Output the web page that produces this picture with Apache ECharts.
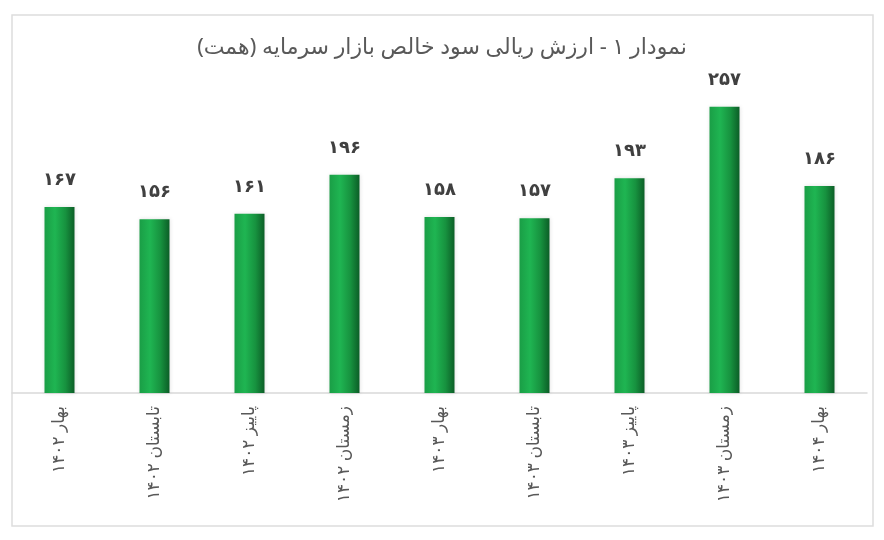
<!DOCTYPE html>
<html>
<head>
<meta charset="utf-8">
<script src="https://cdn.jsdelivr.net/npm/echarts@6/dist/echarts.min.js"></script>
<style>
html,body{margin:0;padding:0;background:#fff;}
#c{width:884px;height:540px;}
</style>
</head>
<body>
<div id="c" dir="rtl"></div>
<script>
const titleText = 'نمودار ۱ - ارزش ریالی سود خالص بازار سرمایه (همت)';
const categories = ['بهار ۱۴۰۲','تابستان ۱۴۰۲','پاییز ۱۴۰۲','زمستان ۱۴۰۲','بهار ۱۴۰۳','تابستان ۱۴۰۳','پاییز ۱۴۰۳','زمستان ۱۴۰۳','بهار ۱۴۰۴'];
const values = [167, 156, 161, 196, 158, 157, 193, 257, 186];

const toFa = n => String(n).replace(/\d/g, d => '۰۱۲۳۴۵۶۷۸۹'[d]);
const FONT = '"Noto Sans", "DejaVu Sans", sans-serif';

const chart = echarts.init(document.getElementById('c'));
chart.setOption({
  animation: false,
  backgroundColor: '#ffffff',
  title: {
    text: titleText + '\u200F',
    left: 'center',
    top: 32,
    textStyle: {fontFamily: FONT, fontSize: 22, fontWeight: 'normal', color: '#595959'}
  },
  graphic: [{
    type: 'rect',
    shape: {x: 12, y: 15, width: 861, height: 511},
    style: {fill: 'none', stroke: '#dddddd', lineWidth: 1.5},
    silent: true
  }],
  grid: {left: 12, right: 17, top: 59, bottom: 147, containLabel: false},
  xAxis: {
    type: 'category',
    data: categories,
    axisLine: {lineStyle: {color: '#d9d9d9', width: 1.5}},
    axisTick: {show: false},
    axisLabel: {rotate: 90, margin: 13, fontFamily: FONT, fontSize: 17, color: '#595959'}
  },
  yAxis: {
    type: 'value', min: 0, max: 300, show: false,
    splitLine: {show: false}
  },
  series: [{
    type: 'bar',
    data: values,
    barWidth: 30,
    itemStyle: {
      color: new echarts.graphic.LinearGradient(0, 0, 1, 0, [
        {offset: 0, color: '#1a9e46'},
        {offset: 0.35, color: '#1fb552'},
        {offset: 0.7, color: '#17923f'},
        {offset: 1, color: '#0c5e27'}
      ]),
      shadowColor: 'rgba(0,0,0,0.12)',
      shadowBlur: 4
    },
    label: {
      show: true,
      position: 'top',
      distance: 18,
      formatter: p => toFa(p.value),
      fontFamily: FONT,
      fontSize: 18,
      fontWeight: 'bold',
      color: '#404040'
    }
  }]
});
</script>
</body>
</html>
